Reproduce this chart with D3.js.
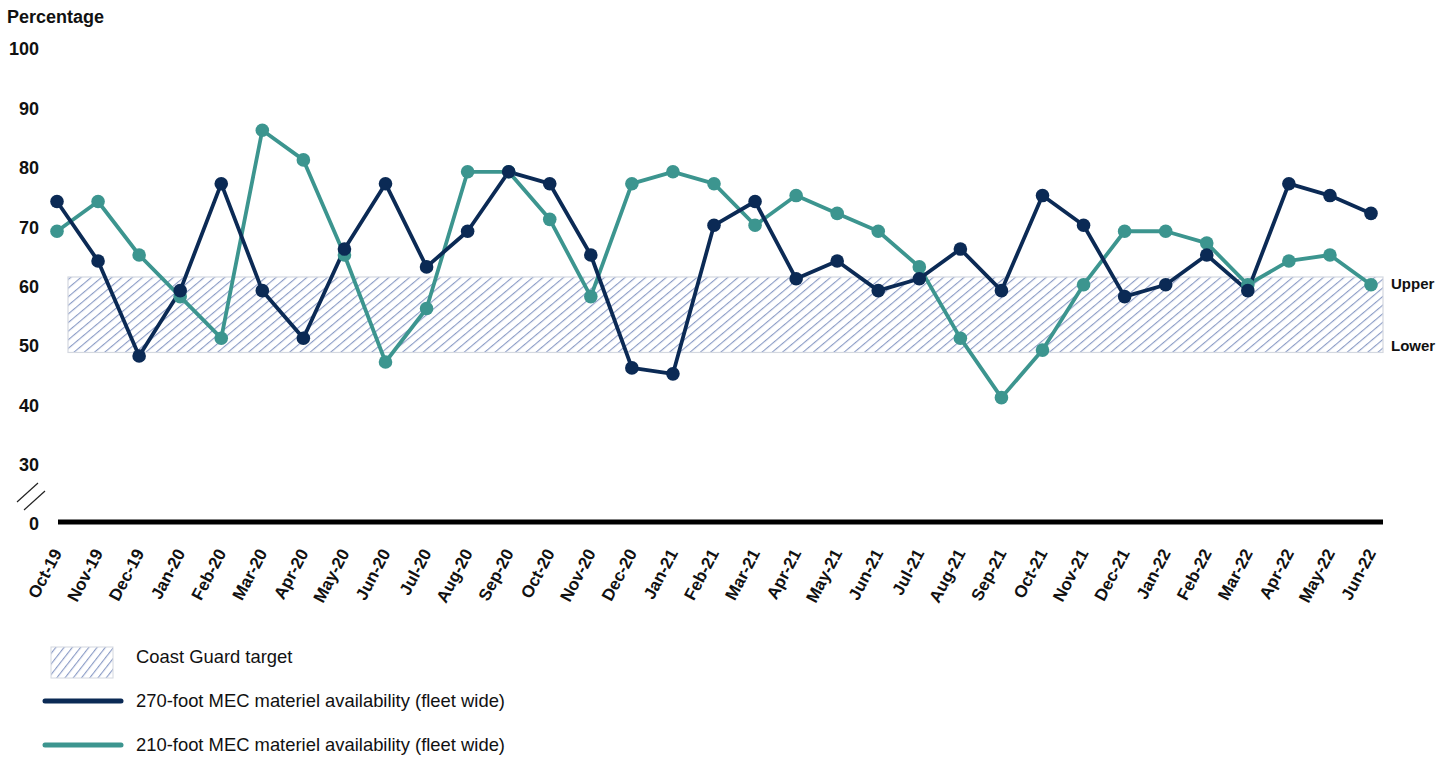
<!DOCTYPE html>
<html><head><meta charset="utf-8">
<script src="https://cdn.jsdelivr.net/npm/d3@7"></script>
<style>body{margin:0;background:#fff;font-family:"Liberation Sans",Arial,sans-serif}</style>
</head><body>
<svg id="c" width="1451" height="760"></svg>
<script>
const months = ["Oct-19","Nov-19","Dec-19","Jan-20","Feb-20","Mar-20","Apr-20","May-20","Jun-20","Jul-20","Aug-20","Sep-20","Oct-20","Nov-20","Dec-20","Jan-21","Feb-21","Mar-21","Apr-21","May-21","Jun-21","Jul-21","Aug-21","Sep-21","Oct-21","Nov-21","Dec-21","Jan-22","Feb-22","Mar-22","Apr-22","May-22","Jun-22"];
const mec270 = [74,64,48,59,77,59,51,66,77,63,69,79,77,65,46,45,70,74,61,64,59,61,66,59,75,70,58,60,65,59,77,75,72];
const mec210 = [69,74,65,58,51,86,81,65,47,56,79,79,71,58,77,79,77,70,75,72,69,63,51,41,49,60,69,69,67,60,64,65,60];
const yTicks = [0,30,40,50,60,70,80,90,100];
const targetUpper = 61.3, targetLower = 48.6;
const legendLabels = ["Coast Guard target","270-foot MEC materiel availability (fleet wide)","210-foot MEC materiel availability (fleet wide)"];

const navy = "#0b2a55", teal = "#3c958f", hatch = "#7d90c0";
const svg = d3.select("#c");
const defs = svg.append("defs");
function makePattern(id, size, rot){
  const p = defs.append("pattern").attr("id",id).attr("patternUnits","userSpaceOnUse")
    .attr("width",size).attr("height",size).attr("patternTransform",`rotate(${rot})`);
  p.append("rect").attr("width",size).attr("height",size).attr("fill","#fff");
  p.append("line").attr("x1",0.6).attr("y1",0).attr("x2",0.6).attr("y2",size).attr("stroke",hatch).attr("stroke-width",1);
}
makePattern("hatch", 6.6, 50);
makePattern("hatchLeg", 6.5, 38);

const x = d3.scalePoint().domain(months).range([57,1371]);
const y = d3.scaleLinear().domain([0,30,100]).range([522,463,47]);

// target band
svg.append("rect").attr("x",68).attr("width",1383-68)
  .attr("y",y(targetUpper)).attr("height",y(targetLower)-y(targetUpper))
  .attr("fill","url(#hatch)").attr("stroke","#d4d8e0").attr("stroke-width",1.2);
svg.append("text").attr("x",1391).attr("y",y(targetUpper)+12).text("Upper")
  .attr("font-size",15).attr("font-weight","bold").attr("fill","#111");
svg.append("text").attr("x",1391).attr("y",y(targetLower)-1).text("Lower")
  .attr("font-size",15).attr("font-weight","bold").attr("fill","#111");

// y axis labels
const ya = svg.append("g").attr("transform","translate(39,2)")
  .call(d3.axisLeft(y).tickValues(yTicks).tickSize(0).tickPadding(0).tickFormat(d3.format("d")));
ya.select(".domain").remove();
ya.selectAll("text").attr("font-size",18).attr("font-weight","bold").attr("fill","#111")
  .attr("font-family","Liberation Sans, Arial, sans-serif");

svg.append("text").attr("x",7).attr("y",23).text("Percentage")
  .attr("font-size",18).attr("font-weight","bold").attr("fill","#111");

// break marks
svg.append("line").attr("x1",17).attr("y1",502).attr("x2",38).attr("y2",483).attr("stroke","#222").attr("stroke-width",1.2);
svg.append("line").attr("x1",24).attr("y1",510).attr("x2",45).attr("y2",491).attr("stroke","#222").attr("stroke-width",1.2);

// x axis
const xa = svg.append("g").attr("transform",`translate(0,${y(0)})`)
  .call(d3.axisBottom(x).tickSize(0).tickPadding(0));
xa.select(".domain").remove();
svg.append("line").attr("x1",58).attr("x2",1383).attr("y1",y(0)).attr("y2",y(0))
  .attr("stroke","#000").attr("stroke-width",5);
xa.selectAll("text").attr("font-size",17).attr("font-weight","bold").attr("fill","#111")
  .attr("font-family","Liberation Sans, Arial, sans-serif")
  .attr("text-anchor","end").attr("dy",0).attr("y",0)
  .attr("transform","translate(5,31) rotate(-62)");

// lines
const line = d3.line().x((d,i)=>x(months[i])).y(d=>y(d));
[[mec210,teal],[mec270,navy]].forEach(([data,col])=>{
  svg.append("path").datum(data).attr("d",line).attr("fill","none")
    .attr("stroke",col).attr("stroke-width",3.8).attr("stroke-linejoin","round");
});
[[mec210,teal],[mec270,navy]].forEach(([data,col])=>{
  svg.append("g").selectAll("circle").data(data).join("circle")
    .attr("cx",(d,i)=>x(months[i])).attr("cy",d=>y(d)).attr("r",6.8).attr("fill",col);
});

// legend
const lg = svg.append("g");
lg.append("rect").attr("x",51).attr("y",647).attr("width",62).attr("height",31)
  .attr("fill","url(#hatchLeg)").attr("stroke","#d4d8e0");
lg.append("line").attr("x1",45).attr("x2",121).attr("y1",701).attr("y2",701).attr("stroke",navy).attr("stroke-width",5).attr("stroke-linecap","round");
lg.append("line").attr("x1",45).attr("x2",121).attr("y1",745).attr("y2",745).attr("stroke",teal).attr("stroke-width",5).attr("stroke-linecap","round");
lg.selectAll("text.l").data(legendLabels).join("text").attr("class","l")
  .attr("x",136).attr("y",(d,i)=>[663,707,751][i]).text(d=>d)
  .attr("font-size",18.4).attr("fill","#111");
</script>
</body></html>
